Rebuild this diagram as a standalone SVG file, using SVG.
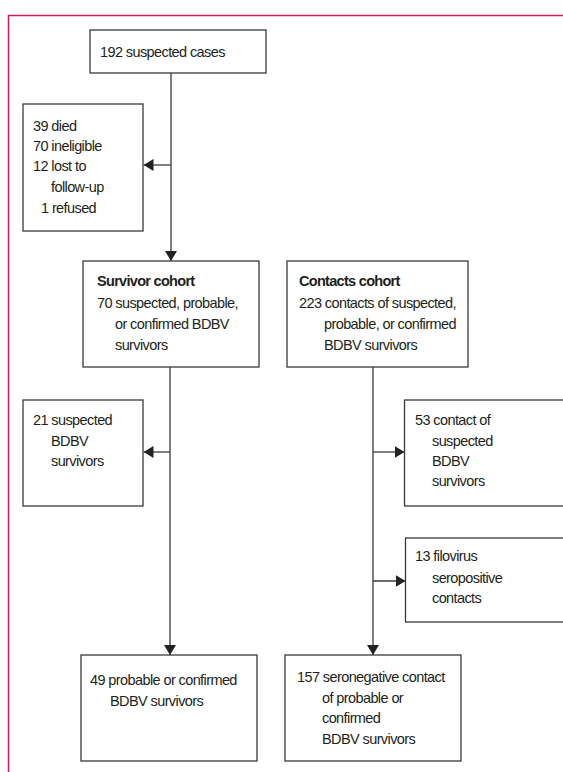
<svg xmlns="http://www.w3.org/2000/svg" width="563" height="772" viewBox="0 0 563 772">
<defs>
<style>
.box{fill:#fff;stroke:#3a3a3a;stroke-width:1.3}
.t{font-family:"Liberation Sans",Arial,sans-serif;font-size:14.5px;letter-spacing:-0.6px;fill:#231f20}
.b{font-weight:bold;letter-spacing:-0.7px}
.ln{stroke:#3a3a3a;stroke-width:1.3;fill:none}
</style>
<marker id="ah" viewBox="0 0 10 12" refX="10" refY="6" markerWidth="10" markerHeight="12" markerUnits="userSpaceOnUse" orient="auto">
<path d="M0,0 L10,6 L0,12 Z" fill="#222"/>
</marker>
</defs>
<rect width="563" height="772" fill="#fff"/>
<g id="frame">
<path d="M8.5,772 V15.5 H563" fill="none" stroke="#d01c4f" stroke-width="1.5"/>
</g>
<g id="connectors">
<line class="ln" x1="171" y1="73" x2="171" y2="261" marker-end="url(#ah)"/>
<line class="ln" x1="171" y1="165" x2="143.5" y2="165" marker-end="url(#ah)"/>
<line class="ln" x1="170" y1="367" x2="170" y2="655" marker-end="url(#ah)"/>
<line class="ln" x1="170" y1="452" x2="143.5" y2="452" marker-end="url(#ah)"/>
<line class="ln" x1="373" y1="367" x2="373" y2="655" marker-end="url(#ah)"/>
<line class="ln" x1="373" y1="452" x2="404.5" y2="452" marker-end="url(#ah)"/>
<line class="ln" x1="373" y1="581" x2="405.5" y2="581" marker-end="url(#ah)"/>
</g>
<g id="n-suspected">
<rect class="box" x="90" y="30" width="176" height="43"/>
<text class="t" x="100" y="57">192 suspected cases</text>
</g>
<g id="n-excluded">
<rect class="box" x="23" y="104" width="120" height="127"/>
<text class="t" x="33" y="131">39 died</text>
<text class="t" x="33" y="151">70 ineligible</text>
<text class="t" x="33" y="171">12 lost to</text>
<text class="t" x="51" y="192">follow-up</text>
<text class="t" x="41" y="213">1 refused</text>
</g>
<g id="n-survivor">
<rect class="box" x="83" y="261" width="176" height="106"/>
<text class="t b" x="97" y="286">Survivor cohort</text>
<text class="t" x="97" y="308">70 suspected, probable,</text>
<text class="t" x="115" y="329">or confirmed BDBV</text>
<text class="t" x="115" y="350">survivors</text>
</g>
<g id="n-contacts">
<rect class="box" x="287" y="261" width="181" height="106"/>
<text class="t b" x="299" y="286">Contacts cohort</text>
<text class="t" x="299" y="308">223 contacts of suspected,</text>
<text class="t" x="324" y="329">probable, or confirmed</text>
<text class="t" x="324" y="350">BDBV survivors</text>
</g>
<g id="n-21">
<rect class="box" x="23" y="400" width="120" height="106"/>
<text class="t" x="33" y="425">21 suspected</text>
<text class="t" x="51" y="446">BDBV</text>
<text class="t" x="51" y="466">survivors</text>
</g>
<g id="n-53">
<rect class="box" x="404.5" y="400" width="170" height="106"/>
<text class="t" x="415" y="425">53 contact of</text>
<text class="t" x="432" y="446">suspected</text>
<text class="t" x="432" y="466">BDBV</text>
<text class="t" x="432" y="486">survivors</text>
</g>
<g id="n-13">
<rect class="box" x="405.5" y="538" width="170" height="84"/>
<text class="t" x="415" y="561">13 filovirus</text>
<text class="t" x="432" y="583">seropositive</text>
<text class="t" x="432" y="603">contacts</text>
</g>
<g id="n-49">
<rect class="box" x="81" y="655" width="176" height="106"/>
<text class="t" x="90" y="685">49 probable or confirmed</text>
<text class="t" x="110" y="706">BDBV survivors</text>
</g>
<g id="n-157">
<rect class="box" x="285" y="655" width="176" height="106"/>
<text class="t" x="297" y="682">157 seronegative contact</text>
<text class="t" x="322" y="703">of probable or</text>
<text class="t" x="322" y="723">confirmed</text>
<text class="t" x="322" y="744">BDBV survivors</text>
</g>
</svg>
